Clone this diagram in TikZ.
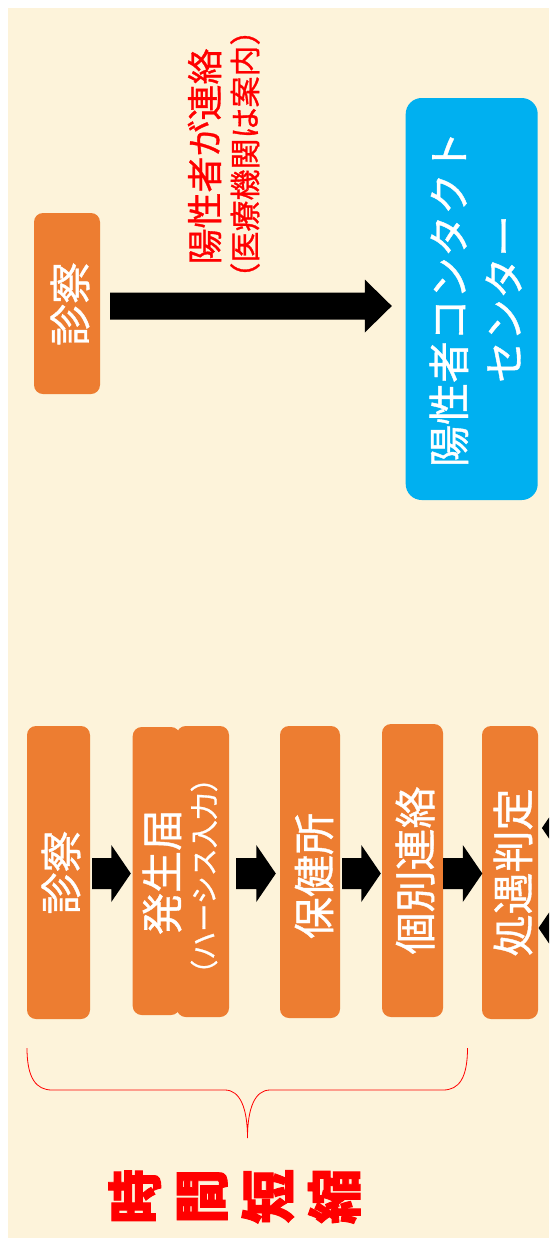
\documentclass[tikz,border=0pt]{standalone}
\usepackage{fontspec}
\newfontfamily\jp[FakeBold=0.9]{Noto Sans CJK JP}
\newfontfamily\jpx[BoldFeatures={FakeBold=1.6}]{Noto Sans CJK JP}
\usetikzlibrary{calc}
\definecolor{bgbeige}{HTML}{FDF3DA}
\definecolor{orangeC}{HTML}{ED7D31}
\definecolor{blueC}{HTML}{00B0F0}
\definecolor{redC}{HTML}{FF0000}
% block arrow: #1 start (with parens), #2 end (with parens), #3 shaft half width, #4 head half width, #5 head length (signed)
\newcommand\blockarrow[5]{%
  \fill[black] let \p1=#1, \p2=#2, \n1={\x2-(#5)} in
    ({\x1},{\y1+#3}) -- ({\n1},{\y1+#3}) -- ({\n1},{\y1+#4}) -- ({\x2},{\y1})
    -- ({\n1},{\y1-#4}) -- ({\n1},{\y1-#3}) -- ({\x1},{\y1-#3}) -- cycle;}
\tikzset{
  box/.style={fill=orangeC, draw=none, rounded corners=9pt, inner sep=0pt},
  wtxt/.style={text=white, rotate=90, align=center, inner sep=0pt},
  rtxt/.style={text=redC, rotate=90, align=center, inner sep=0pt},
  bigfont/.style={font=\jp\fontsize{42}{55}\selectfont},
}
\begin{document}
\begin{tikzpicture}[x=1pt, y=-1pt]
\useasboundingbox (0,0) rectangle (549,1245);
\clip (0,0) rectangle (549,1245);
\fill[white] (0,0) rectangle (549,1245);
\fill[bgbeige] (8,8) rectangle (549,1238);

% top part
\node[box, minimum width=66pt, minimum height=181pt] (shinA) at (67,303.5) {};
\node[box, fill=blueC, rounded corners=16pt, minimum width=132pt, minimum height=402pt] (center) at (471.7,299) {};
\node[wtxt, bigfont] (tA) at ($(shinA)+(3,0.5)$) {診察};
\node[wtxt, bigfont] (tC) at ($(center)+(3.8,0)$) {陽性者コンタクト\\センター};
\node[rtxt, font=\jp\fontsize{36}{40}\selectfont] (r1) at (204.5,156.5) {陽性者が連絡};
\node[rtxt, font=\jp\fontsize{31}{35}\selectfont] (r2) at (245,154) {（医療機関は案内）};
\blockarrow{($(shinA.east)+(10,2.5)$)}{($(center.west)+(-13.7,0)$)}{13.5pt}{26.5pt}{27pt}

% bottom row
\node[box, minimum width=63pt, minimum height=293pt] (shinB) at (58.5,872.5) {};
\node[box, minimum width=47.3pt, minimum height=288pt] (hasA) at (156.35,871) {};
\node[box, minimum width=52.3pt, minimum height=291pt] (hasB) at (202.85,871.5) {};
\node[box, minimum width=60pt, minimum height=292pt] (hoken) at (310,872) {};
\node[box, minimum width=61pt, minimum height=293pt] (kobetsu) at (412.5,870.5) {};
\node[box, minimum width=56pt, minimum height=293pt] (shogu) at (510,872.5) {};

\node[wtxt, bigfont] (tB) at ($(shinB)+(2.5,0)$) {診察};
\node[wtxt, bigfont] (tH1) at (162,872) {発生届};
\node[wtxt, font=\jp\fontsize{28}{32}\selectfont] (tH2) at (204,876) {（ハーシス入力）};
\node[wtxt, bigfont] (tK) at ($(hoken)+(4,4)$) {保健所};
\node[wtxt, bigfont] (tI) at ($(kobetsu)+(2.5,0)$) {個別連絡};
\node[wtxt, bigfont] (tS) at ($(shogu)+(3,0)$) {処遇判定};

\blockarrow{($(shinB.east)+(2,1)$)}{($(hasA.west)+(-1.7,0)$)}{15.5pt}{28.5pt}{19.5pt}
\blockarrow{($(hasB.east)+(7,2)$)}{($(hoken.west)+(-4,0)$)}{15.5pt}{28.5pt}{19.5pt}
\blockarrow{($(hoken.east)+(2,1.5)$)}{($(kobetsu.west)+(-1,0)$)}{15.5pt}{28.5pt}{19.5pt}
\blockarrow{($(kobetsu.east)+(0,3)$)}{($(shogu.west)+(0.5,0)$)}{15.5pt}{28.5pt}{19.5pt}

% arrows entering from the right (cut off)
\coordinate (offR1) at (600,828);
\coordinate (offR2) at (600,928);
\blockarrow{(offR1)}{($(shogu.east)+(3.7,0)$)}{15.5pt}{28.5pt}{-19.5pt}
\blockarrow{(offR2)}{($(shogu.east)+(0.3,0)$)}{15.5pt}{28.5pt}{-19.5pt}

% brace
\coordinate (braceL) at (27,1048);
\coordinate (braceR) at (467.5,1048);
\coordinate (braceTip) at (247.5,1138);
\draw[redC, line width=0.8pt] (braceL) .. controls (27,1078) and (36,1090) .. (52,1090)
  -- (225,1090) .. controls (240,1090) and (247.5,1108) .. (braceTip)
  .. controls (247.5,1108) and (255,1090) .. (270,1090)
  -- (443,1090) .. controls (459,1090) and (467.5,1078) .. (braceR);

\node[rtxt, font=\jpx\bfseries\fontsize{55}{66.5}\selectfont] (jikan) at (234.5,1196.5) {時\\間\\短\\縮};
\end{tikzpicture}
\end{document}
